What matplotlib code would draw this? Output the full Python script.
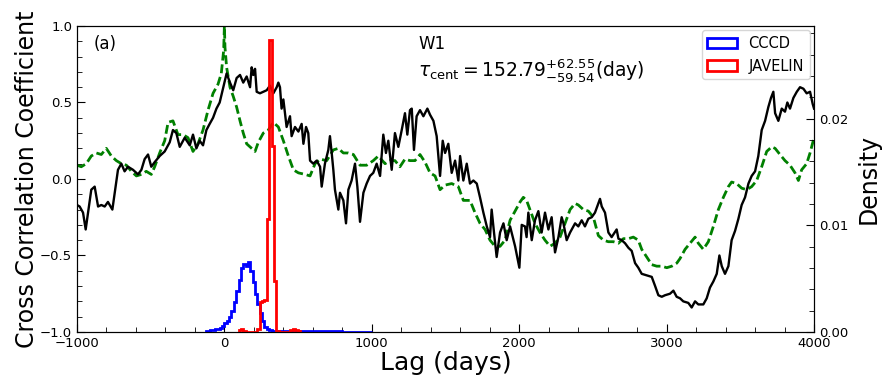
import numpy as np
import matplotlib
matplotlib.use("Agg")
import matplotlib.pyplot as plt

# cross correlation (black)
ccf_lag = [-1000, -982, -959, -941, -925, -903, -880, -857, -835, -812, -790, -760, -744, -722,
           -699, -677, -654, -620, -586, -563, -541, -518, -496, -473, -439, -405, -371, -349,
           -326, -303, -269, -235, -213, -190, -168, -145, -122, -100, -77, -54, -32, -7, 15,
           38, 60, 83, 106, 128, 151, 174, 185, 196, 208, 219, 241, 264, 287, 309, 332, 355,
           366, 377, 388, 400, 422, 445, 456, 479, 502, 524, 536, 554, 569, 581, 603, 626, 649,
           660, 682, 705, 716, 728, 739, 750, 773, 784, 807, 825, 841, 863, 886, 902, 920, 943,
           965, 988, 1010, 1033, 1056, 1078, 1096, 1112, 1135, 1157, 1180, 1203, 1225, 1241,
           1259, 1271, 1286, 1304, 1327, 1350, 1377, 1395, 1418, 1440, 1463, 1481, 1497, 1519,
           1542, 1565, 1587, 1599, 1621, 1644, 1666, 1689, 1712, 1734, 1757, 1780, 1802, 1813,
           1829, 1847, 1870, 1893, 1915, 1938, 1972, 2001, 2017, 2039, 2050, 2062, 2085, 2107,
           2130, 2152, 2175, 2198, 2220, 2243, 2266, 2288, 2300, 2322, 2345, 2379, 2401, 2424,
           2446, 2469, 2492, 2514, 2537, 2548, 2560, 2582, 2605, 2627, 2661, 2673, 2695, 2718,
           2741, 2763, 2786, 2808, 2831, 2865, 2899, 2922, 2944, 2967, 2989, 3023, 3046, 3068,
           3091, 3113, 3147, 3170, 3193, 3215, 3249, 3272, 3294, 3317, 3340, 3358, 3374, 3396,
           3419, 3441, 3464, 3487, 3509, 3532, 3555, 3577, 3600, 3622, 3645, 3668, 3690, 3708,
           3724, 3736, 3758, 3781, 3803, 3819, 3837, 3860, 3883, 3905, 3928, 3950, 3973, 3991,
           4000]
ccf_val = [-0.17, -0.18, -0.22, -0.33, -0.22, -0.07, -0.05, -0.18, -0.17, -0.18, -0.15, -0.20,
           -0.09, 0.06, 0.10, 0.05, 0.08, 0.06, 0.03, 0.06, 0.13, 0.16, 0.08, 0.11, 0.15, 0.18,
           0.24, 0.32, 0.30, 0.21, 0.27, 0.22, 0.29, 0.20, 0.25, 0.22, 0.32, 0.36, 0.40, 0.46,
           0.50, 0.60, 0.69, 0.63, 0.58, 0.66, 0.68, 0.63, 0.67, 0.60, 0.73, 0.68, 0.72, 0.57,
           0.56, 0.57, 0.58, 0.61, 0.56, 0.60, 0.63, 0.60, 0.46, 0.52, 0.34, 0.41, 0.28, 0.34,
           0.31, 0.36, 0.23, 0.34, 0.30, 0.12, 0.10, 0.12, 0.08, -0.05, 0.10, 0.19, 0.28, 0.17,
           0.06, -0.07, -0.20, -0.09, -0.14, -0.29, -0.07, -0.01, 0.10, -0.05, -0.28, -0.09,
           -0.03, 0.02, 0.04, 0.10, 0.02, 0.29, 0.17, 0.25, 0.06, 0.30, 0.21, 0.32, 0.43, 0.29,
           0.45, 0.46, 0.19, 0.41, 0.45, 0.41, 0.46, 0.42, 0.38, 0.28, 0.02, 0.25, 0.17, 0.23,
           0.04, 0.12, -0.01, 0.15, -0.01, 0.10, -0.03, -0.01, -0.03, -0.12, -0.22, -0.31, -0.38,
           -0.20, -0.35, -0.51, -0.35, -0.29, -0.40, -0.31, -0.44, -0.58, -0.30, -0.31, -0.38,
           -0.22, -0.40, -0.27, -0.21, -0.35, -0.22, -0.33, -0.25, -0.48, -0.38, -0.25, -0.29,
           -0.40, -0.35, -0.29, -0.31, -0.27, -0.31, -0.26, -0.25, -0.22, -0.16, -0.13, -0.18,
           -0.22, -0.35, -0.38, -0.33, -0.39, -0.40, -0.42, -0.45, -0.47, -0.55, -0.58, -0.62,
           -0.63, -0.64, -0.70, -0.76, -0.77, -0.76, -0.75, -0.73, -0.77, -0.78, -0.80, -0.81,
           -0.84, -0.80, -0.82, -0.82, -0.78, -0.71, -0.67, -0.62, -0.50, -0.57, -0.62, -0.57,
           -0.40, -0.34, -0.26, -0.17, -0.12, -0.03, 0.02, 0.05, 0.15, 0.32, 0.38, 0.47, 0.53,
           0.57, 0.43, 0.38, 0.46, 0.44, 0.50, 0.46, 0.53, 0.57, 0.60, 0.59, 0.56, 0.57, 0.49,
           0.46]

# auto correlation (green dashed)
acf_lag = [-1000, -971, -937, -903, -869, -835, -801, -767, -733, -699, -665, -631, -597, -563,
           -530, -496, -473, -439, -405, -382, -349, -315, -281, -247, -213, -179, -145, -111,
           -77, -43, -21, -5, 0, 4, 15, 38, 60, 83, 106, 128, 151, 185, 208, 230, 264, 298, 332,
           366, 400, 434, 468, 502, 547, 581, 615, 649, 694, 739, 773, 807, 841, 875, 920, 965,
           1010, 1044, 1090, 1124, 1157, 1191, 1225, 1259, 1293, 1327, 1361, 1395, 1429, 1463,
           1497, 1542, 1587, 1621, 1666, 1700, 1734, 1768, 1802, 1836, 1870, 1904, 1938, 1972,
           2006, 2028, 2050, 2073, 2107, 2141, 2175, 2209, 2243, 2277, 2311, 2345, 2379, 2401,
           2435, 2469, 2503, 2537, 2571, 2605, 2639, 2673, 2707, 2741, 2774, 2808, 2831, 2865,
           2899, 2933, 2967, 3001, 3035, 3069, 3091, 3125, 3159, 3193, 3215, 3249, 3283, 3317,
           3351, 3385, 3419, 3441, 3475, 3509, 3543, 3577, 3611, 3645, 3679, 3713, 3736, 3769,
           3803, 3837, 3871, 3894, 3916, 3950, 3973, 4000]
acf_val = [0.09, 0.08, 0.10, 0.15, 0.17, 0.16, 0.20, 0.15, 0.12, 0.10, 0.09, 0.05, 0.02, 0.03,
           0.05, 0.03, 0.08, 0.17, 0.25, 0.37, 0.38, 0.29, 0.29, 0.27, 0.18, 0.23, 0.32, 0.45,
           0.56, 0.62, 0.69, 0.84, 1.00, 0.86, 0.73, 0.60, 0.54, 0.47, 0.38, 0.30, 0.23, 0.20,
           0.18, 0.24, 0.30, 0.32, 0.37, 0.34, 0.25, 0.15, 0.06, 0.04, 0.03, 0.02, 0.10, 0.13,
           0.12, 0.19, 0.20, 0.17, 0.17, 0.16, 0.09, 0.09, 0.12, 0.15, 0.10, 0.12, 0.12, 0.08,
           0.13, 0.12, 0.12, 0.16, 0.11, 0.04, 0.02, -0.07, -0.04, -0.03, -0.05, -0.14, -0.14,
           -0.22, -0.29, -0.33, -0.40, -0.44, -0.44, -0.40, -0.27, -0.21, -0.15, -0.12, -0.14,
           -0.20, -0.29, -0.35, -0.40, -0.44, -0.42, -0.38, -0.29, -0.20, -0.16, -0.17, -0.20,
           -0.21, -0.25, -0.37, -0.40, -0.41, -0.41, -0.42, -0.39, -0.39, -0.38, -0.40, -0.46,
           -0.51, -0.56, -0.57, -0.57, -0.58, -0.57, -0.55, -0.52, -0.46, -0.42, -0.38, -0.42,
           -0.46, -0.41, -0.31, -0.20, -0.12, -0.05, -0.02, -0.03, -0.06, -0.07, -0.05, -0.01,
           0.08, 0.18, 0.21, 0.20, 0.16, 0.12, 0.09, 0.04, -0.01, 0.06, 0.10, 0.17, 0.27]

# CCCD histogram (blue)
cccd_edges = [-128, -112, -96, -80, -64, -48, -32, -16, 0, 16, 32, 48, 64, 80, 96, 112, 128, 144,
              160, 176, 192, 208, 224, 240, 256, 272, 288, 304, 320, 400, 500, 600, 700, 800,
              900, 1000]
cccd_dens = [0.0001, 0.0001, 0.00015, 0.0002, 0.00025, 0.0003, 0.0004, 0.0006, 0.0008, 0.0010,
             0.0014, 0.0020, 0.0028, 0.0038, 0.0049, 0.0060, 0.0064, 0.0062, 0.0066, 0.0057,
             0.0047, 0.0036, 0.0026, 0.0018, 0.0010, 0.0005, 0.0003, 0.0002, 0.0001, 0.00008,
             0.00006, 0.00005, 0.00005, 0.00004, 0.00004]

# JAVELIN histogram (red)
jav_edges = [96, 112, 128, 144, 224, 240, 256, 272, 288, 304, 320, 336, 352, 368, 448, 464, 480,
             496, 512]
jav_dens = [0.0002, 0.0003, 0.0001, 0.0, 0.0003, 0.0028, 0.0029, 0.0030, 0.0106, 0.0274,
            0.0174, 0.0048, 0.0001, 0.0, 0.0002, 0.0003, 0.0002, 0.0001]

fig = plt.figure(figsize=(8.88, 3.91), dpi=100)
ax = fig.add_axes([0.0867, 0.151, 0.83, 0.7825])
ax.plot(acf_lag, acf_val, color="green", ls="--", lw=2, dashes=(3.2, 1.4))
ax.plot(ccf_lag, ccf_val, color="black", lw=1.7)
ax.set_xlim(-1000, 4000)
ax.set_ylim(-1, 1)
ax.set_xticks([-1000, 0, 1000, 2000, 3000, 4000])
ax.set_xticks(np.arange(-1000, 4001, 200), minor=True)
ax.set_yticks([-1.0, -0.5, 0.0, 0.5, 1.0])
ax.set_yticks(np.arange(-1, 1.01, 0.1), minor=True)
ax.tick_params(which="both", direction="in", labelsize=9.5, right=False, top=False)
ax.tick_params(which="major", length=6)
ax.tick_params(which="minor", length=3.5)
ax.set_xlabel("Lag (days)", fontsize=18, labelpad=1)
ax.set_ylabel("Cross Correlation Coefficient", fontsize=17, labelpad=1)

ax2 = ax.twinx()
c_cent = [(a + b) / 2 for a, b in zip(cccd_edges[:-1], cccd_edges[1:])]
j_cent = [(a + b) / 2 for a, b in zip(jav_edges[:-1], jav_edges[1:])]
ax2.hist(c_cent, bins=cccd_edges, weights=cccd_dens, histtype="step", color="blue", lw=2,
         label="CCCD")
ax2.hist(j_cent, bins=jav_edges, weights=jav_dens, histtype="step", color="red", lw=2,
         label="JAVELIN")
ax2.set_ylim(0, 0.0287)
ax2.set_yticks([0.0, 0.01, 0.02])
ax2.set_yticklabels(["0.00", "0.01", "0.02"])
ax2.set_yticks(np.arange(0, 0.0287, 0.002), minor=True)
ax2.tick_params(which="both", direction="in", labelsize=9.5)
ax2.tick_params(which="major", length=6)
ax2.tick_params(which="minor", length=3.5)
ax2.set_ylabel("Density", fontsize=17, labelpad=6)
ax2.legend(loc="upper right", fontsize=10.5, borderaxespad=0.3)

ax.text(0.022, 0.94, "(a)", transform=ax.transAxes, fontsize=12, va="center")
ax.text(0.463, 0.94, "W1", transform=ax.transAxes, fontsize=12, va="center")
ax.text(0.463, 0.855, r"$\tau_{\rm cent} = 152.79^{+62.55}_{-59.54}$(day)",
        transform=ax.transAxes, fontsize=13.5, va="center")

fig.savefig("out.png", dpi=100)
